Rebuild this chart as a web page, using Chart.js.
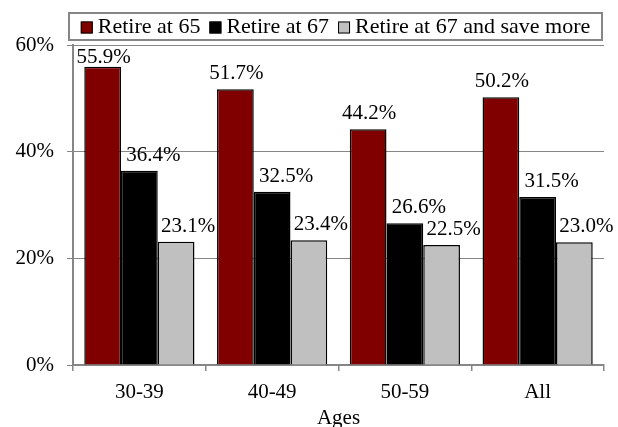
<!DOCTYPE html>
<html>
<head>
<meta charset="utf-8">
<script src="https://cdn.jsdelivr.net/npm/chart.js@4/dist/chart.umd.min.js"></script>
<style>
  body { margin: 0; background: #fff; }
  canvas { display: block; }
</style>
</head>
<body>
<canvas id="retireChart" width="618" height="427"></canvas>
<script>
// data
const categories = ["30-39", "40-49", "50-59", "All"];
const seriesNames = ["Retire at 65", "Retire at 67", "Retire at 67 and save more"];
const retireAt65 = [55.9, 51.7, 44.2, 50.2];
const retireAt67 = [36.4, 32.5, 26.6, 31.5];
const retireAt67Save = [23.1, 23.4, 22.5, 23.0];
const yTicks = [0, 20, 40, 60];

const serif = "'Liberation Serif', 'Times New Roman', serif";
const gridGray = "#868686";

// labels above bars (black/gray ones nudged right like the original)
const labelShift = [1, 14, 12];
const barLabels = {
  id: "barLabels",
  afterDatasetsDraw(chart) {
    const { ctx, chartArea } = chart;
    ctx.save();
    ctx.font = "21px " + serif;
    ctx.fillStyle = "#000";
    ctx.textAlign = "center";
    ctx.textBaseline = "alphabetic";
    chart.data.datasets.forEach(function (ds, i) {
      const meta = chart.getDatasetMeta(i);
      meta.data.forEach(function (bar, j) {
        let y = bar.y - 10;
        if (y < chartArea.top + 18) y = chartArea.top + 18;
        ctx.fillText(ds.data[j].toFixed(1) + "%", bar.x + labelShift[i], y);
      });
    });
    ctx.restore();
  },
};

// boxed legend across the top
const boxLegend = {
  id: "boxLegend",
  afterDraw(chart) {
    const { ctx, chartArea } = chart;
    const left = chartArea.left - 4;
    const right = chartArea.right - 2;
    const top = 13;
    const bottom = 40;
    ctx.save();
    ctx.strokeStyle = gridGray;
    ctx.lineWidth = 2;
    ctx.strokeRect(left, top, right - left, bottom - top);

    ctx.font = "22px " + serif;
    ctx.textBaseline = "middle";
    ctx.textAlign = "left";
    const items = chart.data.datasets.map(function (ds) {
      return { text: ds.label, color: ds.backgroundColor, w: ctx.measureText(ds.label).width };
    });
    let total = 0;
    items.forEach(function (it) { total += 12 + 5 + it.w; });
    total += 9 * (items.length - 1);
    let x = left + (right - left - total) / 2;
    const cy = (top + bottom) / 2 + 1;
    items.forEach(function (it) {
      ctx.fillStyle = it.color;
      ctx.fillRect(x, cy - 6, 12, 12);
      ctx.strokeStyle = "#000";
      ctx.lineWidth = 1;
      ctx.strokeRect(x + 0.5, cy - 5.5, 11, 11);
      ctx.fillStyle = "#000";
      ctx.fillText(it.text, x + 17, cy);
      x += 12 + 5 + it.w + 9;
    });
    ctx.restore();
  },
};

const ctx = document.getElementById("retireChart").getContext("2d");

const retireChart = new Chart(ctx, {
  type: "bar",
  data: {
    labels: categories,
    datasets: [
      {
        label: seriesNames[0],
        data: retireAt65,
        backgroundColor: "#800000",
      },
      {
        label: seriesNames[1],
        data: retireAt67,
        backgroundColor: "#000000",
      },
      {
        label: seriesNames[2],
        data: retireAt67Save,
        backgroundColor: "#c0c0c0",
      },
    ],
  },
  options: {
    responsive: false,
    devicePixelRatio: 1,
    animation: false,
    layout: {
      padding: { top: 45, right: 14, left: 0, bottom: 0 },
    },
    datasets: {
      bar: {
        borderColor: "#000",
        borderWidth: 1.5,
        categoryPercentage: 0.83,
        barPercentage: 1.0,
      },
    },
    scales: {
      x: {
        afterFit: function (s) { s.height = 62; },
        grid: {
          drawOnChartArea: false,
          tickLength: 6,
          color: gridGray,
          lineWidth: 1.5,
        },
        border: { color: gridGray, width: 2 },
        ticks: {
          color: "#000",
          padding: 9,
          font: { family: serif, size: 21 },
        },
        title: {
          display: true,
          text: "Ages",
          color: "#000",
          padding: { top: 0, bottom: 0 },
          font: { family: serif, size: 21, lineHeight: 0.85 },
        },
      },
      y: {
        min: 0,
        max: 60,
        afterFit: function (s) { s.width = 73; },
        afterBuildTicks: function (s) {
          s.ticks = yTicks.map(function (v) { return { value: v }; });
        },
        grid: {
          color: gridGray,
          lineWidth: 1,
          tickLength: 6,
        },
        border: { color: gridGray, width: 2 },
        ticks: {
          color: "#000",
          padding: 13,
          font: { family: serif, size: 21 },
          callback: function (v) { return v + "%"; },
        },
      },
    },
    plugins: {
      legend: { display: false },
      tooltip: { enabled: false },
    },
  },
  plugins: [barLabels, boxLegend],
});
</script>
</body>
</html>
